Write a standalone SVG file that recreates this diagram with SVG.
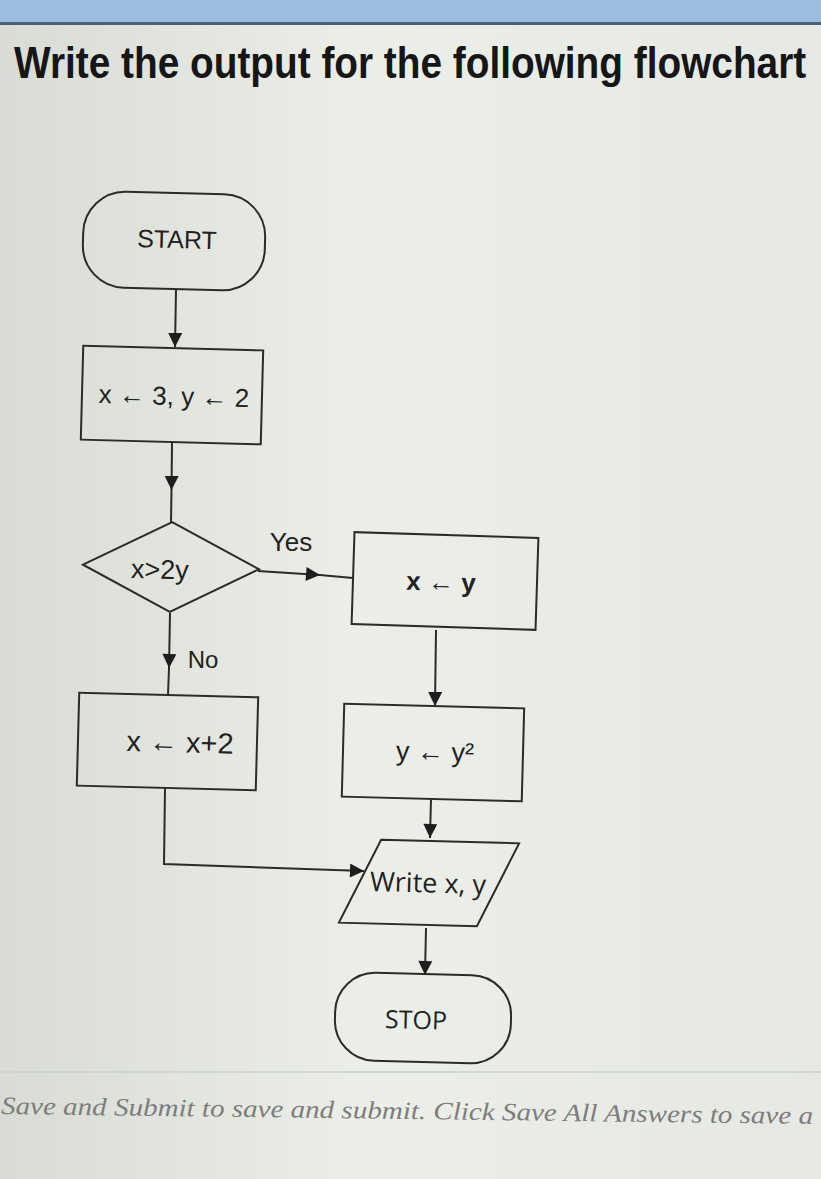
<svg xmlns="http://www.w3.org/2000/svg" width="821" height="1179" viewBox="0 0 821 1179">
<defs>
<linearGradient id="bg" x1="0" y1="0" x2="1" y2="0">
<stop offset="0" stop-color="#d9dbd5"/>
<stop offset="0.45" stop-color="#eceee8"/>
<stop offset="1" stop-color="#e5e8e3"/>
</linearGradient>
<marker id="ah" viewBox="0 0 10 10" refX="10" refY="5" markerWidth="15" markerHeight="14" markerUnits="userSpaceOnUse" orient="auto">
<path d="M0,0 L10,5 L0,10 z" fill="#1e1e1e"/>
</marker>
<style>
.shape{fill:none;stroke:#2b2b2b;stroke-width:2}
.conn{fill:none;stroke:#2b2b2b;stroke-width:2}
.t{font-family:"Liberation Sans",Arial,sans-serif;fill:#222;text-anchor:middle;dominant-baseline:central}
.c{font-family:"Open Sans","Lato",sans-serif;fill:#222;text-anchor:middle;dominant-baseline:central}
</style>
</defs>
<rect width="821" height="1179" fill="url(#bg)"/>
<rect width="821" height="23" fill="#9dbde0"/>
<rect y="22" width="821" height="3" fill="#4d5f74"/>
<text transform="translate(14 78) scale(1 1.15)" x="0" y="0" font-family="'Liberation Sans',Arial,sans-serif" font-weight="bold" font-size="38.8" fill="#161616">Write the output for  the following flowchart</text>

<g id="connectors">
<path class="conn" d="M176,290 L175,347" marker-end="url(#ah)"/>
<path class="conn" d="M172,443 L171.5,490 L171,522" marker-mid="url(#ah)"/>
<path class="conn" d="M258,571 L320,575 L353,578" marker-mid="url(#ah)"/>
<path class="conn" d="M170,613 L169,668 L168,695" marker-mid="url(#ah)"/>
<path class="conn" d="M436,630 L435,706" marker-end="url(#ah)"/>
<path class="conn" d="M431,799 L430,838" marker-end="url(#ah)"/>
<path class="conn" d="M165,788 L164,864 L364,871" marker-end="url(#ah)"/>
<path class="conn" d="M426,928 L425,975" marker-end="url(#ah)"/>
<text class="t" x="291" y="542" font-size="26">Yes</text>
<text class="t" x="203" y="659" font-size="24">No</text>
</g>

<g id="start" transform="rotate(1.5 174 241)">
<rect class="shape" x="83" y="193" width="182" height="96" rx="42"/>
<text class="t" x="177" y="239" font-size="25">START</text>
</g>

<g id="init" transform="rotate(1.5 172 395)">
<rect class="shape" x="82" y="348" width="180" height="94"/>
<text class="t" x="174" y="396" font-size="26">x ← 3, y ← 2</text>
</g>

<g id="decision" transform="rotate(1.5 171 567)">
<polygon class="shape" points="83,567 171,522 259,567 171,612"/>
<text class="t" x="160" y="570" font-size="27">x&gt;2y</text>
</g>

<g id="assign-xy" transform="rotate(1.8 445 581)">
<rect class="shape" x="353" y="535" width="184" height="92"/>
<text class="t" x="441" y="582" font-size="26" font-weight="bold">x ← y</text>
</g>

<g id="square-y" transform="rotate(1.5 433 752)">
<rect class="shape" x="343" y="706" width="180" height="93"/>
<text class="t" x="435" y="752" font-size="27">y ← y²</text>
</g>

<g id="add-two" transform="rotate(1.5 168 741)">
<rect class="shape" x="78" y="695" width="179" height="93"/>
<text class="t" x="180" y="742" font-size="29">x ← x+2</text>
</g>

<g id="write" transform="rotate(1.5 429 883)">
<polygon class="shape" points="380,841 518,841 478,925 340,925"/>
<text class="c" x="428" y="882" font-size="27">Write x, y</text>
</g>

<g id="stop" transform="rotate(1.5 423 1018)">
<rect class="shape" x="335" y="974" width="176" height="88" rx="40"/>
<text class="c" x="416" y="1019" font-size="25" fill="#333">STOP</text>
</g>

<line x1="0" y1="1072" x2="821" y2="1072" stroke="#cdd0cb" stroke-width="1.5"/>
<text x="1" y="1114" transform="rotate(0.7 0 1114)" font-family="'Liberation Serif','Times New Roman',serif" font-style="italic" font-size="25" fill="#7d7d7d" textLength="812" lengthAdjust="spacingAndGlyphs">Save and Submit to save and submit. Click Save All Answers to save a</text>
</svg>
